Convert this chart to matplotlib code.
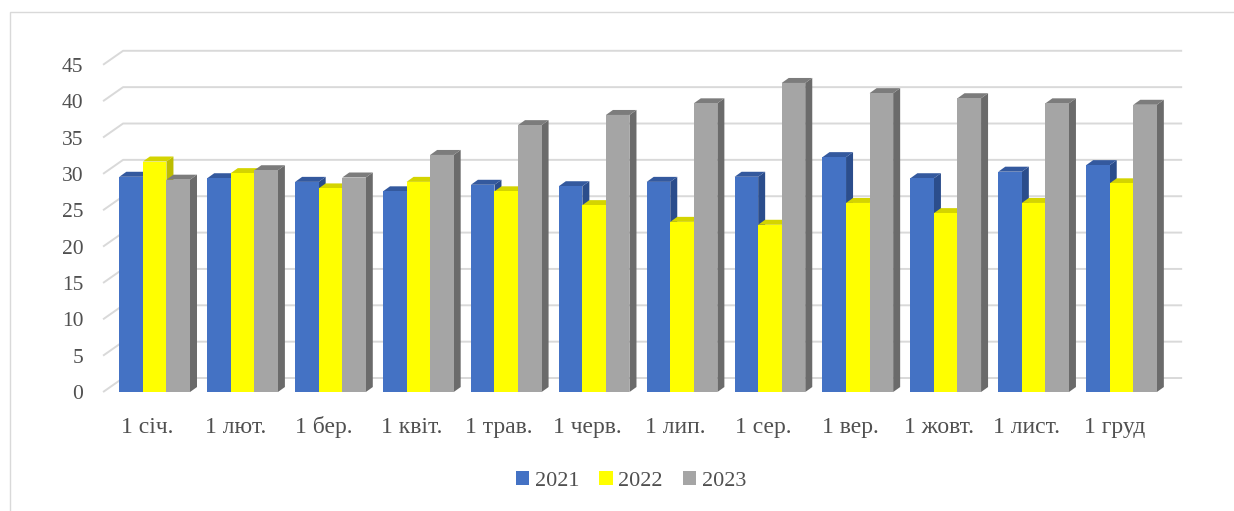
import matplotlib
matplotlib.use("Agg")
import matplotlib.pyplot as plt
from matplotlib.patches import Polygon, Patch, Rectangle
from matplotlib.lines import Line2D
import matplotlib.transforms as mtransforms
import numpy as np

# Monthly values for three years
months = ["1 січ.", "1 лют.", "1 бер.", "1 квіт.", "1 трав.", "1 черв.",
          "1 лип.", "1 сер.", "1 вер.", "1 жовт.", "1 лист.", "1 груд"]
years = ["2021", "2022", "2023"]
v2021 = [29.6, 29.4, 28.9, 27.6, 28.5, 28.3, 28.9, 29.6, 32.3, 29.4, 30.3, 31.2]
v2022 = [31.7, 30.1, 28.0, 28.9, 27.6, 25.7, 23.4, 23.0, 26.0, 24.6, 26.0, 28.7]
v2023 = [29.2, 30.5, 29.5, 32.6, 36.7, 38.1, 39.7, 42.5, 41.1, 40.4, 39.7, 39.5]
yticks = list(range(0, 50, 5))

front_colors = ["#4472C4", "#FFFF00", "#A5A5A5"]
side_colors = ["#2B4D8C", "#BDBD00", "#6B6B6B"]
top_colors = ["#34599E", "#D4D400", "#7C7C7C"]
text_color = "#505050"
grid_color = "#D9D9D9"
serif = ["Liberation Serif", "DejaVu Serif"]

W, H, DPI = 1234, 511, 100
fig = plt.figure(figsize=(W / DPI, H / DPI), dpi=DPI)
fig.patch.set_facecolor("white")

# chart-area border (only top and left edges fall inside the canvas)
fig.add_artist(Rectangle((10 / W, -0.05), 1.2, (H - 12) / H + 0.05,
                         transform=fig.transFigure, fill=False,
                         edgecolor=grid_color, linewidth=1.0))

ax = fig.add_axes([0.0826, 0.2186, 0.8761, 0.6973])
xlim = (-0.6, 11.7)
ylim = (-1.0, 48.0)
ax.set_xlim(*xlim)
ax.set_ylim(*ylim)
for s in ax.spines.values():
    s.set_visible(False)

# pixel -> data unit conversions for the pseudo-3D depth
ax_w_px = 0.8761 * W
ax_h_px = 0.6973 * H
ux = (xlim[1] - xlim[0]) / ax_w_px
uy = (ylim[1] - ylim[0]) / ax_h_px

# depth of the chart floor and of each bar, in pixels
floor_dx, floor_dy = 20 * ux, 14 * uy
bar_dx, bar_dy = 7 * ux, 5 * uy

# back-wall gridlines with the left-wall diagonals
x_front_left = -0.587
x_back_right = 11.69
for v in yticks:
    ax.add_line(Line2D([x_front_left, x_front_left + floor_dx, x_back_right],
                       [v, v + floor_dy, v + floor_dy],
                       color=grid_color, linewidth=1.4, zorder=1,
                       solid_capstyle="butt"))

# bars
n = len(months)
x = np.arange(n)
bw = 0.268
series = [v2021, v2022, v2023]
z = 2
for i in range(n):
    for k, vals in enumerate(series):
        x0 = x[i] + (k - 1.5) * bw
        h = vals[i]
        side = Polygon([(x0 + bw, 0), (x0 + bw, h),
                        (x0 + bw + bar_dx, h + bar_dy), (x0 + bw + bar_dx, bar_dy)],
                       closed=True, facecolor=side_colors[k], edgecolor="none",
                       zorder=z)
        top = Polygon([(x0, h), (x0 + bw, h),
                       (x0 + bw + bar_dx, h + bar_dy), (x0 + bar_dx, h + bar_dy)],
                      closed=True, facecolor=top_colors[k], edgecolor="none",
                      zorder=z)
        ax.add_patch(side)
        ax.add_patch(top)
        ax.bar(x0, h, width=bw, align="edge", color=front_colors[k],
               edgecolor="none", zorder=z + 0.5)
        z += 1

# axes labels
ax.set_yticks(yticks)
ax.set_yticklabels([str(t) for t in yticks], fontfamily=serif,
                   fontsize=15.5, color=text_color)
ax.tick_params(axis="y", length=0, pad=13.5)
ax.set_xticks(x)
ax.set_xticklabels(months, fontfamily=serif, fontsize=17, color=text_color)
ax.tick_params(axis="x", length=0, pad=24.0)
shift = mtransforms.ScaledTranslation(-7 / DPI, 0, fig.dpi_scale_trans)
for lab in ax.get_xticklabels():
    lab.set_verticalalignment("baseline")
    lab.set_transform(lab.get_transform() + shift)

handles = [Patch(facecolor=c, edgecolor="none") for c in front_colors]
fig.legend(handles, years, loc="center", bbox_to_anchor=(631 / W, 1 - 481 / H),
           ncol=3, frameon=False, handlelength=0.6, handleheight=0.6,
           handletextpad=0.25, columnspacing=0.9,
           prop={"family": serif, "size": 16}, labelcolor=text_color)

fig.savefig("out.png", dpi=DPI, facecolor="white")
